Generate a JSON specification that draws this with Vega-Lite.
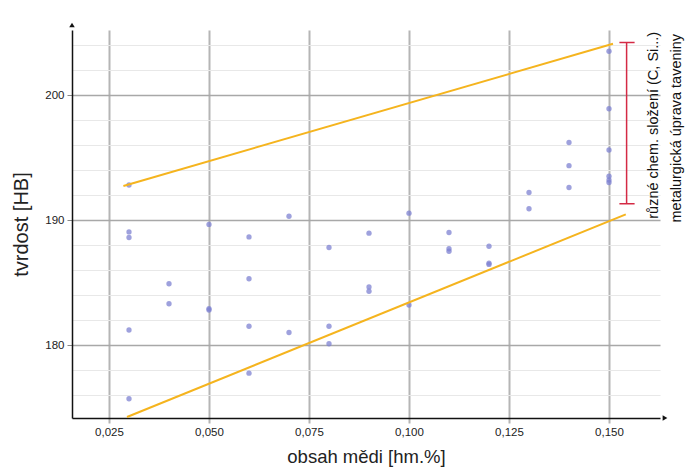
{
  "$schema": "https://vega.github.io/schema/vega-lite/v6.json",
  "autosize": {"type": "none"},
  "width": 588,
  "height": 388,
  "padding": {"left": 72, "top": 30, "right": 25, "bottom": 52},
  "background": "white",
  "config": {
    "view": {"stroke": null},
    "font": "Liberation Sans",
    "axis": {"labelFont": "Liberation Sans", "titleFont": "Liberation Sans", "labelColor": "#222", "titleColor": "#222", "titleFontWeight": "normal", "labelFontSize": 11.5}
  },
  "datasets": {
    "points": [
      {"cu": 0.03, "hb": 192.8}, {"cu": 0.03, "hb": 189.05}, {"cu": 0.03, "hb": 188.6}, {"cu": 0.03, "hb": 181.2}, {"cu": 0.03, "hb": 175.7},
      {"cu": 0.04, "hb": 184.9}, {"cu": 0.04, "hb": 183.3},
      {"cu": 0.05, "hb": 189.65}, {"cu": 0.05, "hb": 182.9}, {"cu": 0.05, "hb": 182.8},
      {"cu": 0.06, "hb": 188.65}, {"cu": 0.06, "hb": 185.3}, {"cu": 0.06, "hb": 181.5}, {"cu": 0.06, "hb": 177.75},
      {"cu": 0.07, "hb": 190.3}, {"cu": 0.07, "hb": 181.0},
      {"cu": 0.08, "hb": 187.8}, {"cu": 0.08, "hb": 181.5}, {"cu": 0.08, "hb": 180.1},
      {"cu": 0.09, "hb": 188.95}, {"cu": 0.09, "hb": 184.65}, {"cu": 0.09, "hb": 184.3},
      {"cu": 0.10, "hb": 190.55}, {"cu": 0.10, "hb": 183.2},
      {"cu": 0.11, "hb": 189.0}, {"cu": 0.11, "hb": 187.7}, {"cu": 0.11, "hb": 187.5},
      {"cu": 0.12, "hb": 187.9}, {"cu": 0.12, "hb": 186.55}, {"cu": 0.12, "hb": 186.45},
      {"cu": 0.13, "hb": 192.2}, {"cu": 0.13, "hb": 190.9},
      {"cu": 0.14, "hb": 196.2}, {"cu": 0.14, "hb": 194.35}, {"cu": 0.14, "hb": 192.6},
      {"cu": 0.15, "hb": 203.5}, {"cu": 0.15, "hb": 198.9}, {"cu": 0.15, "hb": 195.6}, {"cu": 0.15, "hb": 193.5}, {"cu": 0.15, "hb": 193.2}, {"cu": 0.15, "hb": 193.0}
    ],
    "bounds": [
      {"line": "upper", "cu": 0.0286, "hb": 192.72},
      {"line": "upper", "cu": 0.151, "hb": 204.1},
      {"line": "lower", "cu": 0.0295, "hb": 174.24},
      {"line": "lower", "cu": 0.1542, "hb": 190.45}
    ]
  },
  "layer": [
    {
      "data": {"name": "points"},
      "mark": {"type": "point", "filled": true, "size": 28, "color": "#7e82d2", "opacity": 0.75},
      "encoding": {
        "x": {
          "field": "cu", "type": "quantitative",
          "scale": {"domain": [0.01575, 0.16275], "nice": false, "zero": false},
          "axis": {
            "title": "obsah mědi [hm.%]",
            "titleFontSize": 18.5,
            "values": [0.025, 0.05, 0.075, 0.1, 0.125, 0.15],
            "tickCount": 20,
            "labelExpr": "replace(format(datum.value, '.3f'), '.', ',')",
            "labelOverlap": false,
            "grid": true, "gridColor": "#b5b5b5", "gridWidth": 2,
            "domainColor": "#111", "domainWidth": 1.5,
            "tickColor": "#b5b5b5", "tickSize": 5, "tickWidth": 2,
            "labelPadding": 3, "titlePadding": 10
          }
        },
        "y": {
          "field": "hb", "type": "quantitative",
          "scale": {"domain": [174.16, 205.2], "nice": false, "zero": false},
          "axis": {
            "title": "tvrdost [HB]",
            "titleFontSize": 20,
            "values": [176, 178, 180, 182, 184, 186, 188, 190, 192, 194, 196, 198, 200, 202, 204],
            "tickCount": 40,
            "labelExpr": "abs(datum.value / 10 - round(datum.value / 10)) < 0.01 ? format(round(datum.value), 'd') : ''",
            "labelOverlap": false,
            "grid": true,
            "gridColor": {"condition": {"test": "abs(datum.value / 10 - round(datum.value / 10)) < 0.01", "value": "#a8a8a8"}, "value": "#e8e8e8"},
            "gridWidth": {"condition": {"test": "abs(datum.value / 10 - round(datum.value / 10)) < 0.01", "value": 1.5}, "value": 1.2},
            "tickSize": {"condition": {"test": "abs(datum.value / 10 - round(datum.value / 10)) < 0.01", "value": 5}, "value": 0},
            "tickColor": "#888",
            "domainColor": "#111", "domainWidth": 1.5,
            "labelPadding": 3, "titlePadding": 13
          }
        }
      }
    },
    {
      "data": {"name": "bounds"},
      "mark": {"type": "line", "color": "#f5b41e", "strokeWidth": 2},
      "encoding": {
        "x": {"field": "cu", "type": "quantitative"},
        "y": {"field": "hb", "type": "quantitative"},
        "detail": {"field": "line"}
      }
    },
    {
      "data": {"values": [{}]},
      "mark": {"type": "rule", "color": "#d42a45", "strokeWidth": 1.5},
      "encoding": {"x": {"datum": 0.1544}, "y": {"datum": 191.3}, "y2": {"datum": 204.2}}
    },
    {
      "data": {"values": [{}]},
      "mark": {"type": "rule", "color": "#d42a45", "strokeWidth": 1.5},
      "encoding": {"x": {"datum": 0.1526}, "x2": {"datum": 0.1564}, "y": {"datum": 204.2}}
    },
    {
      "data": {"values": [{}]},
      "mark": {"type": "rule", "color": "#d42a45", "strokeWidth": 1.5},
      "encoding": {"x": {"datum": 0.1526}, "x2": {"datum": 0.1564}, "y": {"datum": 191.3}}
    },
    {
      "data": {"values": [{}]},
      "mark": {"type": "text", "angle": 270, "align": "left", "baseline": "middle", "fontSize": 14.5, "font": "Liberation Sans", "color": "#111", "text": "různé chem. složení (C, Si...)"},
      "encoding": {"x": {"datum": 0.16125}, "y": {"datum": 190.1}}
    },
    {
      "data": {"values": [{}]},
      "mark": {"type": "text", "angle": 270, "align": "left", "baseline": "middle", "fontSize": 14.5, "font": "Liberation Sans", "color": "#111", "text": "metalurgická úprava taveniny"},
      "encoding": {"x": {"datum": 0.167}, "y": {"datum": 189.8}}
    },
    {
      "data": {"values": [{}]},
      "mark": {"type": "point", "shape": "triangle-up", "filled": true, "size": 30, "color": "#111", "opacity": 1},
      "encoding": {"x": {"datum": 0.01575}, "y": {"datum": 205.6}}
    },
    {
      "data": {"values": [{}]},
      "mark": {"type": "point", "shape": "triangle-right", "filled": true, "size": 30, "color": "#111", "opacity": 1},
      "encoding": {"x": {"datum": 0.164}, "y": {"datum": 174.16}}
    }
  ]
}
